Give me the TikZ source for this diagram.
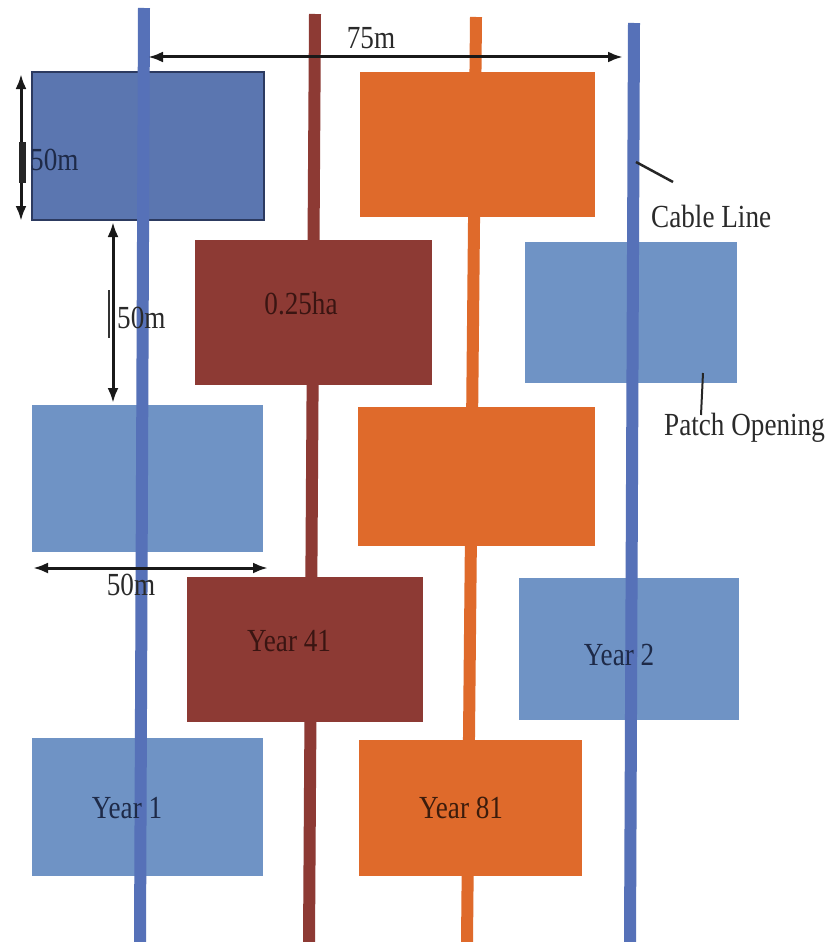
\documentclass[tikz,border=0pt]{standalone}
\usepackage{fontspec}
\usepackage{graphicx}
\setmainfont{Liberation Serif}
\usetikzlibrary{arrows.meta}
\definecolor{cblue}{HTML}{5671B8}
\definecolor{pblue}{HTML}{6F93C5}
\definecolor{dblue}{HTML}{5B76B0}
\definecolor{navy}{HTML}{2C3A60}
\definecolor{cred}{HTML}{8D3A34}
\definecolor{corange}{HTML}{DF6A2B}
\definecolor{txt}{HTML}{2A2A2A}
\definecolor{bluetxt}{HTML}{1E2A48}
\definecolor{redtxt}{HTML}{3A1512}
\definecolor{orgtxt}{HTML}{3C1C0C}
\newcommand\talltxt[1]{\scalebox{0.97}[1.15]{#1}}
\begin{document}
\begin{tikzpicture}[x=1pt,y=-1pt,
  patch/.style={rectangle, anchor=north west, inner sep=0, outer sep=0},
  lbl/.style={font=\fontsize{28}{30}\selectfont, text=txt, inner sep=0},
  dimline/.style={line width=3pt, draw=black!90, {Latex[length=15pt,width=11pt]}-{Latex[length=15pt,width=11pt]}},
  cable/.style={line width=12pt},
  pointer/.style={line width=2.5pt, draw=black!85}]
\useasboundingbox[fill=white] (0,0) rectangle (838,942);

% patches
\node[patch, fill=dblue, draw=navy, line width=2pt, minimum width=232pt, minimum height=148pt] (b1) at (32,72) {};
\node[patch, fill=corange, minimum width=235pt, minimum height=145pt] (o1) at (360,72) {};
\node[patch, fill=cred, minimum width=237pt, minimum height=145pt] (r1) at (195,240) {};
\node[patch, fill=pblue, minimum width=212pt, minimum height=141pt] (b2) at (525,242) {};
\node[patch, fill=pblue, minimum width=231pt, minimum height=147pt] (b3) at (32,405) {};
\node[patch, fill=corange, minimum width=237pt, minimum height=139pt] (o2) at (358,407) {};
\node[patch, fill=cred, minimum width=236pt, minimum height=145pt] (r2) at (187,577) {};
\node[patch, fill=pblue, minimum width=220pt, minimum height=142pt] (b4) at (519,578) {};
\node[patch, fill=pblue, minimum width=231pt, minimum height=138pt] (b5) at (32,738) {};
\node[patch, fill=corange, minimum width=223pt, minimum height=136pt] (o3) at (359,740) {};

% cable lines
\coordinate (c1t) at (144,8);   \coordinate (c1b) at (140,942);
\coordinate (c2t) at (315,14);  \coordinate (c2b) at (309,942);
\coordinate (c3t) at (476,17);  \coordinate (c3b) at (467,942);
\coordinate (c4t) at (634,23);  \coordinate (c4b) at (630,942);
\draw[cable, cblue] (c1t) -- (c1b);
\draw[cable, cred] (c2t) -- (c2b);
\draw[cable, corange] (c3t) -- (c3b);
\draw[cable, cblue] (c4t) -- (c4b);

% labels in patches
\node[lbl, text=redtxt] (t025) at (301,304) {\talltxt{0.25ha}};
\node[lbl, text=redtxt] (t41) at (289,641) {\talltxt{Year 41}};
\node[lbl, text=bluetxt] (t2) at (619,655) {\talltxt{Year 2}};
\node[lbl, text=bluetxt] (t1) at (127,808) {\talltxt{Year 1}};
\node[lbl, text=orgtxt] (t81) at (461,808) {\talltxt{Year 81}};

% dimension: 75m
\coordinate (d75a) at (148,57); \coordinate (d75b) at (623,57);
\draw[dimline] (d75a) -- (d75b);
\node[lbl] (l75) at (371,38) {\talltxt{75m}};

% dimension: left vertical 50m
\coordinate (dva) at (21,74); \coordinate (dvb) at (21,221);
\draw[dimline] (dva) -- (dvb);
\coordinate (bara) at (22,142); \coordinate (barb) at (22,183);
\draw[line width=7pt, black!85] (bara) -- (barb);
\node[lbl, anchor=west, text=bluetxt] (l50a) at (30,160) {\talltxt{50m}};

% dimension: gap vertical 50m
\coordinate (dga) at (113,222); \coordinate (dgb) at (113,403);
\draw[dimline] (dga) -- (dgb);
\coordinate (tka) at (109,290); \coordinate (tkb) at (109,338);
\draw[line width=1.5pt, black!80] (tka) -- (tkb);
\node[lbl, anchor=west] (l50b) at (117,318) {\talltxt{50m}};

% dimension: horizontal 50m
\coordinate (dha) at (33,568); \coordinate (dhb) at (268,568);
\draw[dimline] (dha) -- (dhb);
\node[lbl] (l50c) at (131,585) {\talltxt{50m}};

% pointers
\node[lbl, anchor=west] (lcable) at (651,216) {\talltxt{Cable Line}};
\coordinate (pc1) at (636,162); \coordinate (pc2) at (673,182);
\draw[pointer] (pc1) -- (pc2);
\node[lbl, anchor=west] (lpatch) at (664,428) {\talltxt{Patch Opening}};
\coordinate (pp1) at (703,373); \coordinate (pp2) at (701,415);
\draw[pointer, line width=2pt] (pp1) -- (pp2);
\end{tikzpicture}
\end{document}
